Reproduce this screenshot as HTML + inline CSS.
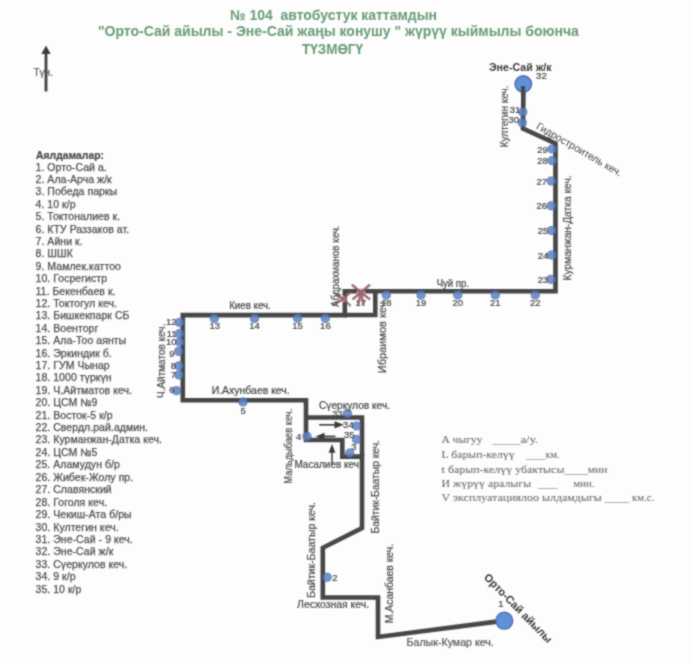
<!DOCTYPE html>
<html><head><meta charset="utf-8"><style>
html,body{margin:0;padding:0;background:#fdfdfd;}
svg{display:block;}
</style></head><body>
<svg width="693" height="663" viewBox="0 0 693 663">
<defs><filter id="soft" x="0" y="0" width="693" height="663" filterUnits="userSpaceOnUse"><feConvolveMatrix order="3" kernelMatrix="1 2 1 2 8 2 1 2 1" divisor="20" edgeMode="duplicate"/></filter></defs>
<rect width="693" height="663" fill="#fdfdfd"/>
<g filter="url(#soft)">
<text x="230" y="19.7" font-size="14" fill="#689b75" font-weight="bold" text-anchor="start" font-family='"Liberation Sans", sans-serif' textLength="207" lengthAdjust="spacingAndGlyphs" style="white-space:pre">№ 104  автобустук каттамдын</text>
<text x="97.9" y="36.3" font-size="14" fill="#689b75" font-weight="bold" text-anchor="start" font-family='"Liberation Sans", sans-serif' textLength="481" lengthAdjust="spacingAndGlyphs" style="white-space:pre">&quot;Орто-Сай айылы - Эне-Сай жаңы конушу &quot; жүрүү кыймылы боюнча</text>
<text x="302" y="53.5" font-size="14" fill="#689b75" font-weight="bold" text-anchor="start" font-family='"Liberation Sans", sans-serif' textLength="61" lengthAdjust="spacingAndGlyphs" >ТҮЗМӨГҮ</text>
<text x="33.5" y="76" font-size="10" fill="#555" font-weight="normal" text-anchor="start" font-family='"Liberation Sans", sans-serif'  stroke="#555" stroke-width="0.2">Түн.</text>
<line x1="46" y1="52" x2="46" y2="91.5" stroke="#3d3d3d" stroke-width="2.8"/>
<polygon points="46,45.5 41.3,54 50.7,54" fill="#3d3d3d"/>
<text x="36" y="159.2" font-size="10.5" fill="#454545" font-weight="bold" text-anchor="start" font-family='"Liberation Sans", sans-serif' textLength="68" lengthAdjust="spacingAndGlyphs"  stroke="#454545" stroke-width="0.2">Аялдамалар:</text>
<text x="35.5" y="170.5" font-size="10.5" fill="#4e4e4e" font-weight="normal" text-anchor="start" font-family='"Liberation Sans", sans-serif' stroke="#4e4e4e" stroke-width="0.25" letter-spacing="0.05">1. Орто-Сай а.</text>
<text x="35.5" y="182.9" font-size="10.5" fill="#4e4e4e" font-weight="normal" text-anchor="start" font-family='"Liberation Sans", sans-serif' stroke="#4e4e4e" stroke-width="0.25" letter-spacing="0.05">2. Ала-Арча ж/к</text>
<text x="35.5" y="195.3" font-size="10.5" fill="#4e4e4e" font-weight="normal" text-anchor="start" font-family='"Liberation Sans", sans-serif' stroke="#4e4e4e" stroke-width="0.25" letter-spacing="0.05">3. Победа паркы</text>
<text x="35.5" y="207.7" font-size="10.5" fill="#4e4e4e" font-weight="normal" text-anchor="start" font-family='"Liberation Sans", sans-serif' stroke="#4e4e4e" stroke-width="0.25" letter-spacing="0.05">4. 10 к/р</text>
<text x="35.5" y="220.1" font-size="10.5" fill="#4e4e4e" font-weight="normal" text-anchor="start" font-family='"Liberation Sans", sans-serif' stroke="#4e4e4e" stroke-width="0.25" letter-spacing="0.05">5. Токтоналиев к.</text>
<text x="35.5" y="232.5" font-size="10.5" fill="#4e4e4e" font-weight="normal" text-anchor="start" font-family='"Liberation Sans", sans-serif' stroke="#4e4e4e" stroke-width="0.25" letter-spacing="0.05">6. КТУ Раззаков ат.</text>
<text x="35.5" y="244.9" font-size="10.5" fill="#4e4e4e" font-weight="normal" text-anchor="start" font-family='"Liberation Sans", sans-serif' stroke="#4e4e4e" stroke-width="0.25" letter-spacing="0.05">7. Айни к.</text>
<text x="35.5" y="257.3" font-size="10.5" fill="#4e4e4e" font-weight="normal" text-anchor="start" font-family='"Liberation Sans", sans-serif' stroke="#4e4e4e" stroke-width="0.25" letter-spacing="0.05">8. ШШК</text>
<text x="35.5" y="269.7" font-size="10.5" fill="#4e4e4e" font-weight="normal" text-anchor="start" font-family='"Liberation Sans", sans-serif' stroke="#4e4e4e" stroke-width="0.25" letter-spacing="0.05">9. Мамлек.каттоо</text>
<text x="35.5" y="282.1" font-size="10.5" fill="#4e4e4e" font-weight="normal" text-anchor="start" font-family='"Liberation Sans", sans-serif' stroke="#4e4e4e" stroke-width="0.25" letter-spacing="0.05">10. Госрегистр</text>
<text x="35.5" y="294.5" font-size="10.5" fill="#4e4e4e" font-weight="normal" text-anchor="start" font-family='"Liberation Sans", sans-serif' stroke="#4e4e4e" stroke-width="0.25" letter-spacing="0.05">11. Бекенбаев к.</text>
<text x="35.5" y="306.9" font-size="10.5" fill="#4e4e4e" font-weight="normal" text-anchor="start" font-family='"Liberation Sans", sans-serif' stroke="#4e4e4e" stroke-width="0.25" letter-spacing="0.05">12. Токтогул кеч.</text>
<text x="35.5" y="319.3" font-size="10.5" fill="#4e4e4e" font-weight="normal" text-anchor="start" font-family='"Liberation Sans", sans-serif' stroke="#4e4e4e" stroke-width="0.25" letter-spacing="0.05">13. Бишкекпарк СБ</text>
<text x="35.5" y="331.7" font-size="10.5" fill="#4e4e4e" font-weight="normal" text-anchor="start" font-family='"Liberation Sans", sans-serif' stroke="#4e4e4e" stroke-width="0.25" letter-spacing="0.05">14. Военторг</text>
<text x="35.5" y="344.1" font-size="10.5" fill="#4e4e4e" font-weight="normal" text-anchor="start" font-family='"Liberation Sans", sans-serif' stroke="#4e4e4e" stroke-width="0.25" letter-spacing="0.05">15. Ала-Тоо аянты</text>
<text x="35.5" y="356.5" font-size="10.5" fill="#4e4e4e" font-weight="normal" text-anchor="start" font-family='"Liberation Sans", sans-serif' stroke="#4e4e4e" stroke-width="0.25" letter-spacing="0.05">16. Эркиндик б.</text>
<text x="35.5" y="368.9" font-size="10.5" fill="#4e4e4e" font-weight="normal" text-anchor="start" font-family='"Liberation Sans", sans-serif' stroke="#4e4e4e" stroke-width="0.25" letter-spacing="0.05">17. ГУМ Чынар</text>
<text x="35.5" y="381.3" font-size="10.5" fill="#4e4e4e" font-weight="normal" text-anchor="start" font-family='"Liberation Sans", sans-serif' stroke="#4e4e4e" stroke-width="0.25" letter-spacing="0.05">18. 1000 түркүн</text>
<text x="35.5" y="393.7" font-size="10.5" fill="#4e4e4e" font-weight="normal" text-anchor="start" font-family='"Liberation Sans", sans-serif' stroke="#4e4e4e" stroke-width="0.25" letter-spacing="0.05">19. Ч.Айтматов кеч.</text>
<text x="35.5" y="406.1" font-size="10.5" fill="#4e4e4e" font-weight="normal" text-anchor="start" font-family='"Liberation Sans", sans-serif' stroke="#4e4e4e" stroke-width="0.25" letter-spacing="0.05">20. ЦСМ №9</text>
<text x="35.5" y="418.5" font-size="10.5" fill="#4e4e4e" font-weight="normal" text-anchor="start" font-family='"Liberation Sans", sans-serif' stroke="#4e4e4e" stroke-width="0.25" letter-spacing="0.05">21. Восток-5 к/р</text>
<text x="35.5" y="430.9" font-size="10.5" fill="#4e4e4e" font-weight="normal" text-anchor="start" font-family='"Liberation Sans", sans-serif' stroke="#4e4e4e" stroke-width="0.25" letter-spacing="0.05">22. Свердл.рай.админ.</text>
<text x="35.5" y="443.35" font-size="10.5" fill="#4e4e4e" font-weight="normal" text-anchor="start" font-family='"Liberation Sans", sans-serif' stroke="#4e4e4e" stroke-width="0.25" letter-spacing="0.05">23. Курманжан-Датка кеч.</text>
<text x="35.5" y="455.8" font-size="10.5" fill="#4e4e4e" font-weight="normal" text-anchor="start" font-family='"Liberation Sans", sans-serif' stroke="#4e4e4e" stroke-width="0.25" letter-spacing="0.05">24. ЦСМ №5</text>
<text x="35.5" y="468.25" font-size="10.5" fill="#4e4e4e" font-weight="normal" text-anchor="start" font-family='"Liberation Sans", sans-serif' stroke="#4e4e4e" stroke-width="0.25" letter-spacing="0.05">25. Аламудун б/р</text>
<text x="35.5" y="480.7" font-size="10.5" fill="#4e4e4e" font-weight="normal" text-anchor="start" font-family='"Liberation Sans", sans-serif' stroke="#4e4e4e" stroke-width="0.25" letter-spacing="0.05">26. Жибек-Жолу пр.</text>
<text x="35.5" y="493.15" font-size="10.5" fill="#4e4e4e" font-weight="normal" text-anchor="start" font-family='"Liberation Sans", sans-serif' stroke="#4e4e4e" stroke-width="0.25" letter-spacing="0.05">27. Славянский</text>
<text x="35.5" y="505.6" font-size="10.5" fill="#4e4e4e" font-weight="normal" text-anchor="start" font-family='"Liberation Sans", sans-serif' stroke="#4e4e4e" stroke-width="0.25" letter-spacing="0.05">28. Гоголя кеч.</text>
<text x="35.5" y="518.05" font-size="10.5" fill="#4e4e4e" font-weight="normal" text-anchor="start" font-family='"Liberation Sans", sans-serif' stroke="#4e4e4e" stroke-width="0.25" letter-spacing="0.05">29. Чекиш-Ата б/ры</text>
<text x="35.5" y="530.5" font-size="10.5" fill="#4e4e4e" font-weight="normal" text-anchor="start" font-family='"Liberation Sans", sans-serif' stroke="#4e4e4e" stroke-width="0.25" letter-spacing="0.05">30. Култегин кеч.</text>
<text x="35.5" y="542.95" font-size="10.5" fill="#4e4e4e" font-weight="normal" text-anchor="start" font-family='"Liberation Sans", sans-serif' stroke="#4e4e4e" stroke-width="0.25" letter-spacing="0.05">31. Эне-Сай - 9 кеч.</text>
<text x="35.5" y="555.4" font-size="10.5" fill="#4e4e4e" font-weight="normal" text-anchor="start" font-family='"Liberation Sans", sans-serif' stroke="#4e4e4e" stroke-width="0.25" letter-spacing="0.05">32. Эне-Сай ж/к</text>
<text x="35.5" y="567.85" font-size="10.5" fill="#4e4e4e" font-weight="normal" text-anchor="start" font-family='"Liberation Sans", sans-serif' stroke="#4e4e4e" stroke-width="0.25" letter-spacing="0.05">33. Сүеркулов кеч.</text>
<text x="35.5" y="580.3" font-size="10.5" fill="#4e4e4e" font-weight="normal" text-anchor="start" font-family='"Liberation Sans", sans-serif' stroke="#4e4e4e" stroke-width="0.25" letter-spacing="0.05">34. 9 к/р</text>
<text x="35.5" y="592.75" font-size="10.5" fill="#4e4e4e" font-weight="normal" text-anchor="start" font-family='"Liberation Sans", sans-serif' stroke="#4e4e4e" stroke-width="0.25" letter-spacing="0.05">35. 10 к/р</text>
<text x="441.6" y="443" font-size="11" fill="#707070" font-weight="normal" text-anchor="start" font-family='"Liberation Serif", serif' textLength="41" lengthAdjust="spacingAndGlyphs" style="white-space:pre" stroke="#707070" stroke-width="0.1">А чыгуу</text>
<text x="492.8" y="443" font-size="11" fill="#707070" font-weight="normal" text-anchor="start" font-family='"Liberation Serif", serif' textLength="27.6" lengthAdjust="spacingAndGlyphs" style="white-space:pre" stroke="#707070" stroke-width="0.1">_____</text>
<text x="520.4" y="443" font-size="11" fill="#707070" font-weight="normal" text-anchor="start" font-family='"Liberation Serif", serif' textLength="17.6" lengthAdjust="spacingAndGlyphs" style="white-space:pre" stroke="#707070" stroke-width="0.1">а/у.</text>
<text x="441.6" y="457.8" font-size="11" fill="#707070" font-weight="normal" text-anchor="start" font-family='"Liberation Serif", serif' textLength="73" lengthAdjust="spacingAndGlyphs" style="white-space:pre" stroke="#707070" stroke-width="0.1">L барып-келүү</text>
<text x="526.3" y="457.8" font-size="11" fill="#707070" font-weight="normal" text-anchor="start" font-family='"Liberation Serif", serif' textLength="19.3" lengthAdjust="spacingAndGlyphs" style="white-space:pre" stroke="#707070" stroke-width="0.1">____</text>
<text x="545.6" y="457.8" font-size="11" fill="#707070" font-weight="normal" text-anchor="start" font-family='"Liberation Serif", serif' textLength="14.1" lengthAdjust="spacingAndGlyphs" style="white-space:pre" stroke="#707070" stroke-width="0.1">км.</text>
<text x="441.6" y="472.5" font-size="11" fill="#707070" font-weight="normal" text-anchor="start" font-family='"Liberation Serif", serif' textLength="122.8" lengthAdjust="spacingAndGlyphs" style="white-space:pre" stroke="#707070" stroke-width="0.1">t барып-келүү убактысы</text>
<text x="564.4" y="472.5" font-size="11" fill="#707070" font-weight="normal" text-anchor="start" font-family='"Liberation Serif", serif' textLength="23.4" lengthAdjust="spacingAndGlyphs" style="white-space:pre" stroke="#707070" stroke-width="0.1">____</text>
<text x="587.8" y="472.5" font-size="11" fill="#707070" font-weight="normal" text-anchor="start" font-family='"Liberation Serif", serif' textLength="19.7" lengthAdjust="spacingAndGlyphs" style="white-space:pre" stroke="#707070" stroke-width="0.1">мин</text>
<text x="441.6" y="486.6" font-size="11" fill="#707070" font-weight="normal" text-anchor="start" font-family='"Liberation Serif", serif' textLength="89.5" lengthAdjust="spacingAndGlyphs" style="white-space:pre" stroke="#707070" stroke-width="0.1">И жүрүү аралыгы</text>
<text x="538" y="486.6" font-size="11" fill="#707070" font-weight="normal" text-anchor="start" font-family='"Liberation Serif", serif' textLength="19.8" lengthAdjust="spacingAndGlyphs" style="white-space:pre" stroke="#707070" stroke-width="0.1">____</text>
<text x="573.4" y="486.6" font-size="11" fill="#707070" font-weight="normal" text-anchor="start" font-family='"Liberation Serif", serif' textLength="21" lengthAdjust="spacingAndGlyphs" style="white-space:pre" stroke="#707070" stroke-width="0.1">мин.</text>
<text x="441.6" y="500.8" font-size="11" fill="#707070" font-weight="normal" text-anchor="start" font-family='"Liberation Serif", serif' textLength="160.3" lengthAdjust="spacingAndGlyphs" style="white-space:pre" stroke="#707070" stroke-width="0.1">V эксплуатациялоо ылдамдыгы</text>
<text x="604.7" y="500.8" font-size="11" fill="#707070" font-weight="normal" text-anchor="start" font-family='"Liberation Serif", serif' textLength="24.4" lengthAdjust="spacingAndGlyphs" style="white-space:pre" stroke="#707070" stroke-width="0.1">_____</text>
<text x="632" y="500.8" font-size="11" fill="#707070" font-weight="normal" text-anchor="start" font-family='"Liberation Serif", serif' textLength="22.4" lengthAdjust="spacingAndGlyphs" style="white-space:pre" stroke="#707070" stroke-width="0.1">км.с.</text>
<polyline points="523.5,84 523,128.5 555.5,143.5 555.5,291.3 344.8,291.3 344.8,315.1 182.8,315.1 182.8,400.2 306,400.2 306,440 342.3,440 342.3,456.6 362,456.6 362,528 322.8,547.8 322.8,597.5 378,597.5 378,637 504.3,620.6" fill="none" stroke="#464646" stroke-width="4.6" stroke-linejoin="miter"/>
<polyline points="375.3,291.3 375.3,315 344,315" fill="none" stroke="#464646" stroke-width="4.6" stroke-linejoin="miter"/>
<polyline points="306,417.5 362,417.5 362,456.6" fill="none" stroke="#464646" stroke-width="4.6" stroke-linejoin="miter"/>
<circle cx="522.8" cy="112" r="4.1" fill="#5c82c4" stroke="#4a6cae" stroke-width="1" opacity="0.85"/>
<circle cx="522.2" cy="122.6" r="4.1" fill="#5c82c4" stroke="#4a6cae" stroke-width="1" opacity="0.85"/>
<circle cx="552" cy="149" r="4.1" fill="#5c82c4" stroke="#4a6cae" stroke-width="1" opacity="0.85"/>
<circle cx="552" cy="160.6" r="4.1" fill="#5c82c4" stroke="#4a6cae" stroke-width="1" opacity="0.85"/>
<circle cx="551.2" cy="181" r="4.1" fill="#5c82c4" stroke="#4a6cae" stroke-width="1" opacity="0.85"/>
<circle cx="551.2" cy="205.8" r="4.1" fill="#5c82c4" stroke="#4a6cae" stroke-width="1" opacity="0.85"/>
<circle cx="551.5" cy="230.5" r="4.1" fill="#5c82c4" stroke="#4a6cae" stroke-width="1" opacity="0.85"/>
<circle cx="551.5" cy="255" r="4.1" fill="#5c82c4" stroke="#4a6cae" stroke-width="1" opacity="0.85"/>
<circle cx="551" cy="279.3" r="4.1" fill="#5c82c4" stroke="#4a6cae" stroke-width="1" opacity="0.85"/>
<circle cx="535.2" cy="295" r="4.1" fill="#5c82c4" stroke="#4a6cae" stroke-width="1" opacity="0.85"/>
<circle cx="495.3" cy="295" r="4.1" fill="#5c82c4" stroke="#4a6cae" stroke-width="1" opacity="0.85"/>
<circle cx="457.8" cy="295" r="4.1" fill="#5c82c4" stroke="#4a6cae" stroke-width="1" opacity="0.85"/>
<circle cx="421" cy="295" r="4.1" fill="#5c82c4" stroke="#4a6cae" stroke-width="1" opacity="0.85"/>
<circle cx="386.3" cy="295" r="4.1" fill="#5c82c4" stroke="#4a6cae" stroke-width="1" opacity="0.85"/>
<circle cx="325.4" cy="318.3" r="4.1" fill="#5c82c4" stroke="#4a6cae" stroke-width="1" opacity="0.85"/>
<circle cx="297.6" cy="318.3" r="4.1" fill="#5c82c4" stroke="#4a6cae" stroke-width="1" opacity="0.85"/>
<circle cx="254.5" cy="318.5" r="4.1" fill="#5c82c4" stroke="#4a6cae" stroke-width="1" opacity="0.85"/>
<circle cx="214.3" cy="318.5" r="4.1" fill="#5c82c4" stroke="#4a6cae" stroke-width="1" opacity="0.85"/>
<circle cx="179.5" cy="322.4" r="4.1" fill="#5c82c4" stroke="#4a6cae" stroke-width="1" opacity="0.85"/>
<circle cx="179.5" cy="333.5" r="4.1" fill="#5c82c4" stroke="#4a6cae" stroke-width="1" opacity="0.85"/>
<circle cx="179.5" cy="342" r="4.1" fill="#5c82c4" stroke="#4a6cae" stroke-width="1" opacity="0.85"/>
<circle cx="178.6" cy="351.3" r="4.1" fill="#5c82c4" stroke="#4a6cae" stroke-width="1" opacity="0.85"/>
<circle cx="179" cy="365.8" r="4.1" fill="#5c82c4" stroke="#4a6cae" stroke-width="1" opacity="0.85"/>
<circle cx="179" cy="374.9" r="4.1" fill="#5c82c4" stroke="#4a6cae" stroke-width="1" opacity="0.85"/>
<circle cx="176.5" cy="390.7" r="4.1" fill="#5c82c4" stroke="#4a6cae" stroke-width="1" opacity="0.85"/>
<circle cx="243" cy="402" r="4.1" fill="#5c82c4" stroke="#4a6cae" stroke-width="1" opacity="0.85"/>
<circle cx="307" cy="436.4" r="4.1" fill="#5c82c4" stroke="#4a6cae" stroke-width="1" opacity="0.85"/>
<circle cx="347.5" cy="413.3" r="4.1" fill="#5c82c4" stroke="#4a6cae" stroke-width="1" opacity="0.85"/>
<circle cx="356.5" cy="426" r="4.1" fill="#5c82c4" stroke="#4a6cae" stroke-width="1" opacity="0.85"/>
<circle cx="356.5" cy="439.3" r="4.1" fill="#5c82c4" stroke="#4a6cae" stroke-width="1" opacity="0.85"/>
<circle cx="349.8" cy="453" r="4.1" fill="#5c82c4" stroke="#4a6cae" stroke-width="1" opacity="0.85"/>
<circle cx="327.2" cy="577.2" r="4.1" fill="#5c82c4" stroke="#4a6cae" stroke-width="1" opacity="0.85"/>
<circle cx="523.3" cy="84" r="8.3" fill="#6090d8" stroke="#4a6eb2" stroke-width="1.4"/>
<circle cx="504.3" cy="620.7" r="8.4" fill="#6090d8" stroke="#4a6eb2" stroke-width="1.4"/>
<line x1="523" y1="86" x2="523" y2="95" stroke="#464646" stroke-width="4.2"/>
<text x="541.4" y="78.5" font-size="9.5" fill="#444" font-weight="normal" text-anchor="middle" font-family='"Liberation Sans", sans-serif'  stroke="#444" stroke-width="0.2">32</text>
<text x="515" y="112.8" font-size="9.5" fill="#444" font-weight="normal" text-anchor="middle" font-family='"Liberation Sans", sans-serif'  stroke="#444" stroke-width="0.2">31</text>
<text x="513.8" y="123.4" font-size="9.5" fill="#444" font-weight="normal" text-anchor="middle" font-family='"Liberation Sans", sans-serif'  stroke="#444" stroke-width="0.2">30</text>
<text x="542.5" y="152.5" font-size="9.5" fill="#444" font-weight="normal" text-anchor="middle" font-family='"Liberation Sans", sans-serif'  stroke="#444" stroke-width="0.2">29</text>
<text x="542.5" y="164" font-size="9.5" fill="#444" font-weight="normal" text-anchor="middle" font-family='"Liberation Sans", sans-serif'  stroke="#444" stroke-width="0.2">28</text>
<text x="541.7" y="184.5" font-size="9.5" fill="#444" font-weight="normal" text-anchor="middle" font-family='"Liberation Sans", sans-serif'  stroke="#444" stroke-width="0.2">27</text>
<text x="541.7" y="209.3" font-size="9.5" fill="#444" font-weight="normal" text-anchor="middle" font-family='"Liberation Sans", sans-serif'  stroke="#444" stroke-width="0.2">26</text>
<text x="543" y="234" font-size="9.5" fill="#444" font-weight="normal" text-anchor="middle" font-family='"Liberation Sans", sans-serif'  stroke="#444" stroke-width="0.2">25</text>
<text x="543" y="258.5" font-size="9.5" fill="#444" font-weight="normal" text-anchor="middle" font-family='"Liberation Sans", sans-serif'  stroke="#444" stroke-width="0.2">24</text>
<text x="543" y="282.8" font-size="9.5" fill="#444" font-weight="normal" text-anchor="middle" font-family='"Liberation Sans", sans-serif'  stroke="#444" stroke-width="0.2">23</text>
<text x="535.2" y="306" font-size="9.5" fill="#444" font-weight="normal" text-anchor="middle" font-family='"Liberation Sans", sans-serif'  stroke="#444" stroke-width="0.2">22</text>
<text x="495.3" y="306" font-size="9.5" fill="#444" font-weight="normal" text-anchor="middle" font-family='"Liberation Sans", sans-serif'  stroke="#444" stroke-width="0.2">21</text>
<text x="457.8" y="306" font-size="9.5" fill="#444" font-weight="normal" text-anchor="middle" font-family='"Liberation Sans", sans-serif'  stroke="#444" stroke-width="0.2">20</text>
<text x="421" y="306" font-size="9.5" fill="#444" font-weight="normal" text-anchor="middle" font-family='"Liberation Sans", sans-serif'  stroke="#444" stroke-width="0.2">19</text>
<text x="386.3" y="305.5" font-size="9.5" fill="#444" font-weight="normal" text-anchor="middle" font-family='"Liberation Sans", sans-serif'  stroke="#444" stroke-width="0.2">18</text>
<text x="360.7" y="305.5" font-size="9.5" fill="#444" font-weight="normal" text-anchor="middle" font-family='"Liberation Sans", sans-serif'  stroke="#444" stroke-width="0.2">17</text>
<text x="325.4" y="329" font-size="9.5" fill="#444" font-weight="normal" text-anchor="middle" font-family='"Liberation Sans", sans-serif'  stroke="#444" stroke-width="0.2">16</text>
<text x="297.6" y="329" font-size="9.5" fill="#444" font-weight="normal" text-anchor="middle" font-family='"Liberation Sans", sans-serif'  stroke="#444" stroke-width="0.2">15</text>
<text x="254.5" y="329.3" font-size="9.5" fill="#444" font-weight="normal" text-anchor="middle" font-family='"Liberation Sans", sans-serif'  stroke="#444" stroke-width="0.2">14</text>
<text x="214.8" y="329.3" font-size="9.5" fill="#444" font-weight="normal" text-anchor="middle" font-family='"Liberation Sans", sans-serif'  stroke="#444" stroke-width="0.2">13</text>
<text x="171.3" y="325.3" font-size="9.5" fill="#444" font-weight="normal" text-anchor="middle" font-family='"Liberation Sans", sans-serif'  stroke="#444" stroke-width="0.2">12</text>
<text x="171.6" y="336.8" font-size="9.5" fill="#444" font-weight="normal" text-anchor="middle" font-family='"Liberation Sans", sans-serif'  stroke="#444" stroke-width="0.2">11</text>
<text x="171.3" y="344.5" font-size="9.5" fill="#444" font-weight="normal" text-anchor="middle" font-family='"Liberation Sans", sans-serif'  stroke="#444" stroke-width="0.2">10</text>
<text x="172" y="357.2" font-size="9.5" fill="#444" font-weight="normal" text-anchor="middle" font-family='"Liberation Sans", sans-serif'  stroke="#444" stroke-width="0.2">9</text>
<text x="173.4" y="368.5" font-size="9.5" fill="#444" font-weight="normal" text-anchor="middle" font-family='"Liberation Sans", sans-serif'  stroke="#444" stroke-width="0.2">8</text>
<text x="173.4" y="377.6" font-size="9.5" fill="#444" font-weight="normal" text-anchor="middle" font-family='"Liberation Sans", sans-serif'  stroke="#444" stroke-width="0.2">7</text>
<text x="171.8" y="393.2" font-size="9.5" fill="#444" font-weight="normal" text-anchor="middle" font-family='"Liberation Sans", sans-serif'  stroke="#444" stroke-width="0.2">6</text>
<text x="243.2" y="413.9" font-size="9.5" fill="#444" font-weight="normal" text-anchor="middle" font-family='"Liberation Sans", sans-serif'  stroke="#444" stroke-width="0.2">5</text>
<text x="298.7" y="439.6" font-size="9.5" fill="#444" font-weight="normal" text-anchor="middle" font-family='"Liberation Sans", sans-serif'  stroke="#444" stroke-width="0.2">4</text>
<text x="337.5" y="416.5" font-size="9.5" fill="#444" font-weight="normal" text-anchor="middle" font-family='"Liberation Sans", sans-serif'  stroke="#444" stroke-width="0.2">33</text>
<text x="348.4" y="427.5" font-size="9.5" fill="#444" font-weight="normal" text-anchor="middle" font-family='"Liberation Sans", sans-serif'  stroke="#444" stroke-width="0.2">34</text>
<text x="349.2" y="438" font-size="9.5" fill="#444" font-weight="normal" text-anchor="middle" font-family='"Liberation Sans", sans-serif'  stroke="#444" stroke-width="0.2">35</text>
<text x="353.9" y="450" font-size="9.5" fill="#444" font-weight="normal" text-anchor="middle" font-family='"Liberation Sans", sans-serif'  stroke="#444" stroke-width="0.2">3</text>
<text x="335" y="580.5" font-size="9.5" fill="#444" font-weight="normal" text-anchor="middle" font-family='"Liberation Sans", sans-serif'  stroke="#444" stroke-width="0.2">2</text>
<text x="500.8" y="607" font-size="9.5" fill="#444" font-weight="normal" text-anchor="middle" font-family='"Liberation Sans", sans-serif'  stroke="#444" stroke-width="0.2">1</text>
<circle cx="361" cy="292.5" r="4.16" fill="#e0b0b8" opacity="0.8"/>
<g stroke="#8e5a62" stroke-width="2.6" stroke-linecap="round" opacity="0.85"><line x1="361" y1="292.5" x2="352.6" y2="285.3"/><line x1="361" y1="292.5" x2="369.2" y2="285.3"/><line x1="361" y1="292.5" x2="353.3" y2="298.8"/><line x1="361" y1="292.5" x2="369.2" y2="298.8"/><line x1="361" y1="292.5" x2="358.1" y2="304.5"/><line x1="361" y1="292.5" x2="363.4" y2="304.5"/></g>
<circle cx="343" cy="299" r="3.5200000000000005" fill="#e0b0b8" opacity="0.8"/>
<g stroke="#8e5a62" stroke-width="2.2" stroke-linecap="round" opacity="0.85"><line x1="343" y1="299" x2="335" y2="293.3"/><line x1="343" y1="299" x2="350.5" y2="292.5"/><line x1="343" y1="299" x2="333.5" y2="305.3"/><line x1="343" y1="299" x2="350" y2="305.3"/></g>
<line x1="319.2" y1="424.8" x2="336" y2="424.8" stroke="#3a3a3a" stroke-width="1.6"/><polygon points="344,424.8 334.5,421.2 334.5,428.4" fill="#3a3a3a"/>
<line x1="335.4" y1="436.4" x2="323" y2="436.4" stroke="#3a3a3a" stroke-width="1.6"/><polygon points="315.5,436.4 324.5,432.8 324.5,440" fill="#3a3a3a"/>
<line x1="332" y1="464.7" x2="332" y2="451" stroke="#3a3a3a" stroke-width="1.4"/><polygon points="332,444 328.6,452.8 335.4,452.8" fill="#3a3a3a"/>
<text x="489" y="70.6" font-size="10" fill="#3a3a3a" font-weight="bold" text-anchor="start" font-family='"Liberation Sans", sans-serif' textLength="62.6" lengthAdjust="spacingAndGlyphs" >Эне-Сай ж/к</text>
<text x="436.7" y="287" font-size="10" fill="#444" font-weight="normal" text-anchor="start" font-family='"Liberation Sans", sans-serif' textLength="32.3" lengthAdjust="spacingAndGlyphs"  stroke="#444" stroke-width="0.2">Чуй пр.</text>
<text x="229.2" y="308.8" font-size="10" fill="#444" font-weight="normal" text-anchor="start" font-family='"Liberation Sans", sans-serif' textLength="41.6" lengthAdjust="spacingAndGlyphs"  stroke="#444" stroke-width="0.2">Киев кеч.</text>
<text x="211.7" y="393.7" font-size="10.5" fill="#444" font-weight="normal" text-anchor="start" font-family='"Liberation Sans", sans-serif' textLength="78" lengthAdjust="spacingAndGlyphs"  stroke="#444" stroke-width="0.2">И.Ахунбаев кеч.</text>
<text x="319" y="408.7" font-size="10.5" fill="#444" font-weight="normal" text-anchor="start" font-family='"Liberation Sans", sans-serif' textLength="71" lengthAdjust="spacingAndGlyphs"  stroke="#444" stroke-width="0.2">Сүеркулов кеч.</text>
<text x="294.4" y="468" font-size="10.5" fill="#444" font-weight="normal" text-anchor="start" font-family='"Liberation Sans", sans-serif' textLength="64.6" lengthAdjust="spacingAndGlyphs"  stroke="#444" stroke-width="0.2">Масалиев кеч</text>
<text x="297.1" y="607.6" font-size="10.5" fill="#444" font-weight="normal" text-anchor="start" font-family='"Liberation Sans", sans-serif' textLength="72" lengthAdjust="spacingAndGlyphs"  stroke="#444" stroke-width="0.2">Лесхозная кеч.</text>
<text x="406.5" y="646.3" font-size="10.8" fill="#555" font-weight="normal" text-anchor="start" font-family='"Liberation Sans", sans-serif' textLength="87.3" lengthAdjust="spacingAndGlyphs"  stroke="#555" stroke-width="0.2">Балык-Кумар кеч.</text>
<text transform="translate(507.8,116.4) rotate(-90)" x="0" y="0" font-size="10" fill="#4d4d4d" font-weight="normal" text-anchor="middle" font-family='"Liberation Sans", sans-serif' textLength="61.8" lengthAdjust="spacingAndGlyphs" stroke="#4d4d4d" stroke-width="0.2">Култегин кеч.</text>
<text transform="translate(570.8,227.9) rotate(-90)" x="0" y="0" font-size="10" fill="#4d4d4d" font-weight="normal" text-anchor="middle" font-family='"Liberation Sans", sans-serif' textLength="105.0" lengthAdjust="spacingAndGlyphs" stroke="#4d4d4d" stroke-width="0.2">Курманжан-Датка кеч.</text>
<text transform="translate(339.0,266.2) rotate(-90)" x="0" y="0" font-size="10" fill="#4d4d4d" font-weight="normal" text-anchor="middle" font-family='"Liberation Sans", sans-serif' textLength="81.6" lengthAdjust="spacingAndGlyphs" stroke="#4d4d4d" stroke-width="0.2">Абдрахманов кеч.</text>
<text transform="translate(385.7,335.9) rotate(-90)" x="0" y="0" font-size="10.3" fill="#4d4d4d" font-weight="normal" text-anchor="middle" font-family='"Liberation Sans", sans-serif' textLength="74.5" lengthAdjust="spacingAndGlyphs" stroke="#4d4d4d" stroke-width="0.2">Ибраимов кеч.</text>
<text transform="translate(165.3,360.9) rotate(-90)" x="0" y="0" font-size="10" fill="#4d4d4d" font-weight="normal" text-anchor="middle" font-family='"Liberation Sans", sans-serif' textLength="74.2" lengthAdjust="spacingAndGlyphs" stroke="#4d4d4d" stroke-width="0.2">Ч.Айтматов кеч.</text>
<text transform="translate(291.8,446.2) rotate(-90)" x="0" y="0" font-size="10" fill="#4d4d4d" font-weight="normal" text-anchor="middle" font-family='"Liberation Sans", sans-serif' textLength="74.9" lengthAdjust="spacingAndGlyphs" stroke="#4d4d4d" stroke-width="0.2">Мальдыбаев кеч.</text>
<text transform="translate(378.5,486.8) rotate(-90)" x="0" y="0" font-size="10" fill="#4d4d4d" font-weight="normal" text-anchor="middle" font-family='"Liberation Sans", sans-serif' textLength="93.5" lengthAdjust="spacingAndGlyphs" stroke="#4d4d4d" stroke-width="0.2">Байтик-Баатыр кеч.</text>
<text transform="translate(315.0,550.0) rotate(-90)" x="0" y="0" font-size="10" fill="#4d4d4d" font-weight="normal" text-anchor="middle" font-family='"Liberation Sans", sans-serif' textLength="96.0" lengthAdjust="spacingAndGlyphs" stroke="#4d4d4d" stroke-width="0.2">Байтик-Баатыр кеч.</text>
<text transform="translate(393.0,583.6) rotate(-90)" x="0" y="0" font-size="10" fill="#4d4d4d" font-weight="normal" text-anchor="middle" font-family='"Liberation Sans", sans-serif' textLength="79.3" lengthAdjust="spacingAndGlyphs" stroke="#4d4d4d" stroke-width="0.2">М.Асанбаев кеч.</text>
<text transform="translate(535.5,128.2) rotate(30)" x="0" y="0" font-size="10.5" fill="#444" font-family='"Liberation Sans", sans-serif' textLength="97" lengthAdjust="spacingAndGlyphs">Гидростроитель кеч.</text>
<text transform="translate(483.3,578) rotate(45.5)" x="0" y="0" font-size="11" font-weight="bold" fill="#333" font-family='"Liberation Sans", sans-serif' textLength="92" lengthAdjust="spacingAndGlyphs">Орто-Сай айылы</text>
</g>
</svg>
</body></html>
